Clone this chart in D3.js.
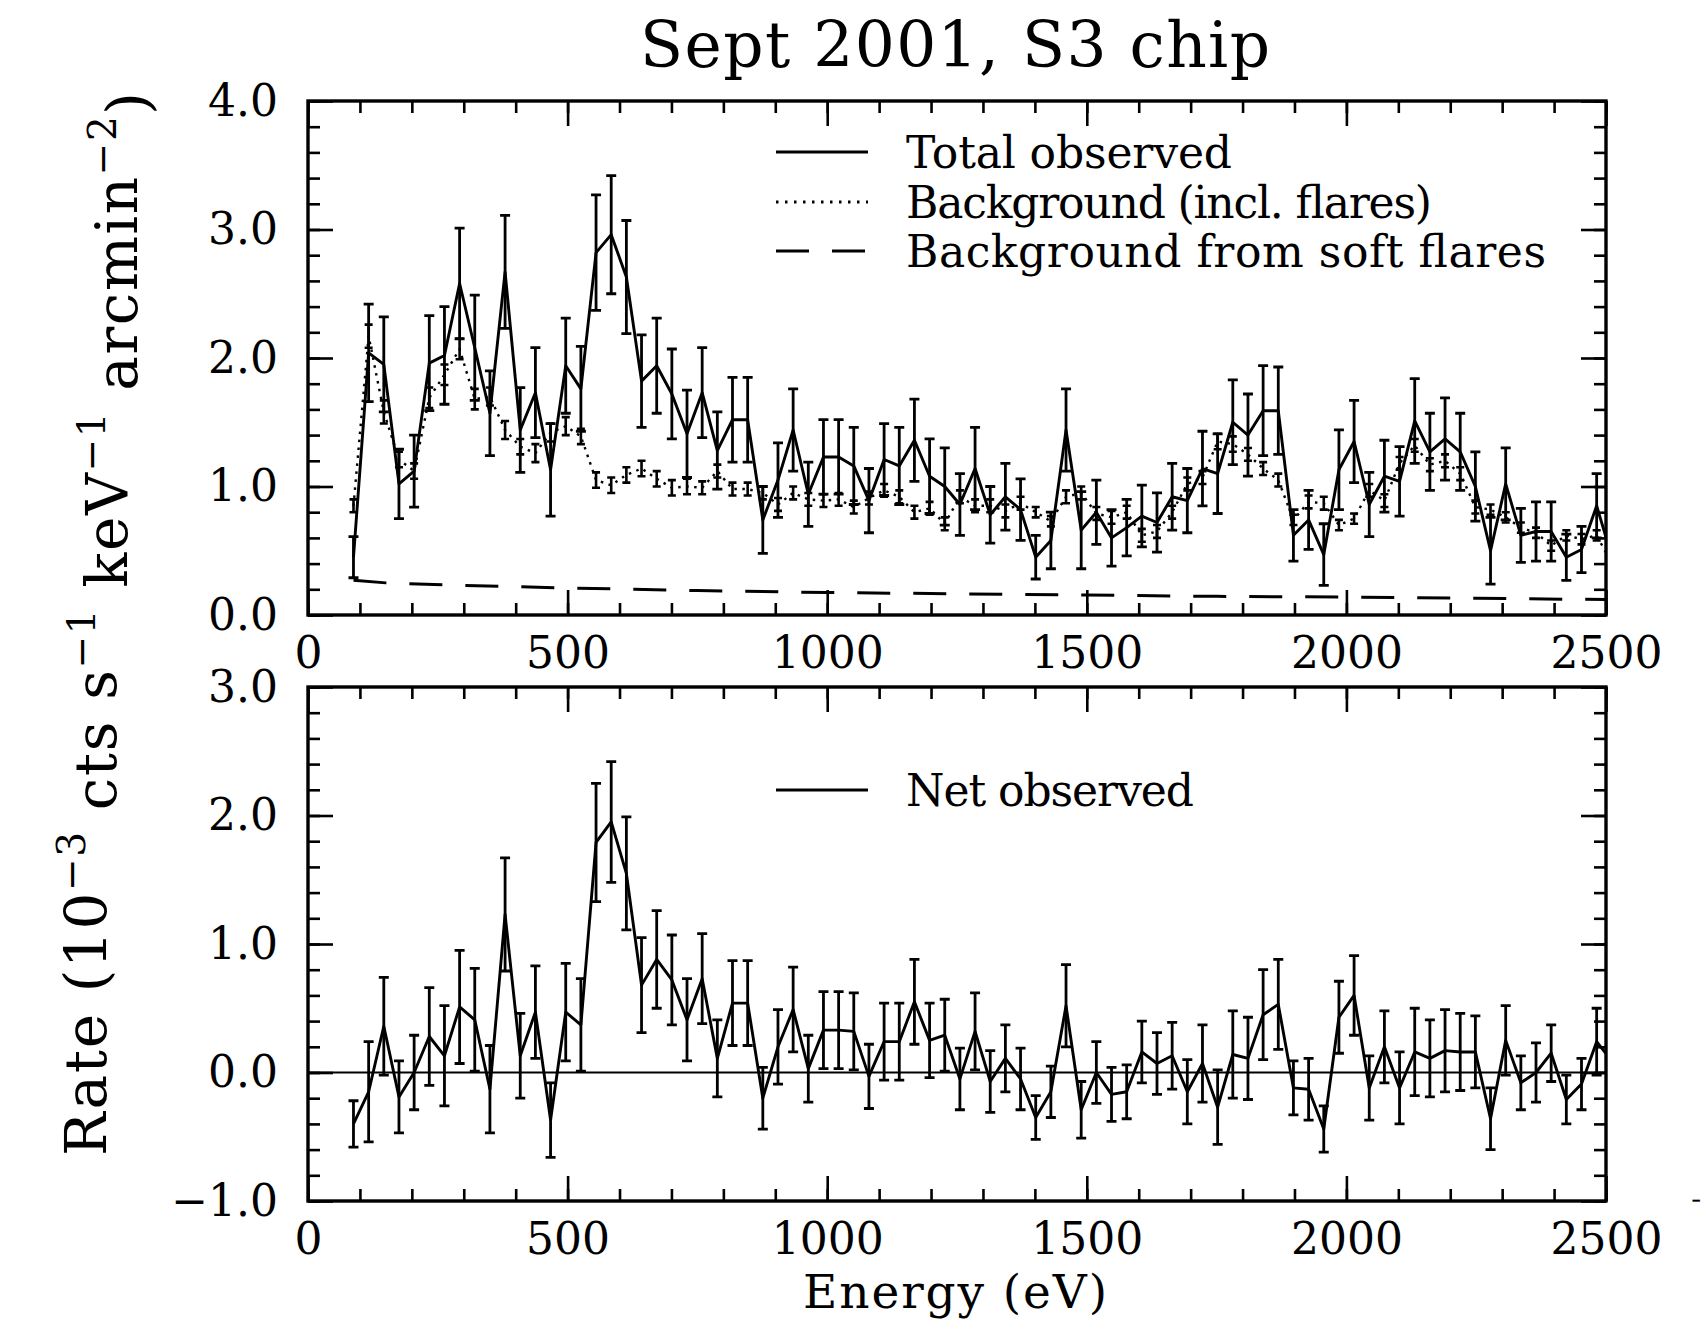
<!DOCTYPE html>
<html>
<head>
<meta charset="utf-8">
<script src="https://cdn.jsdelivr.net/npm/d3@7"></script>
<style>
  body { margin: 0; background: #fff; }
  svg text { font-family: "DejaVu Serif", serif; fill: #000; }
</style>
</head>
<body>
<div id="chart"></div>
<script>
/**********************/
/******* data         */
/**********************/

// bin centres in eV (2 PI channels per bin)
const energy = [87.6, 116.8, 146.0, 175.2, 204.4, 233.6, 262.8, 292.0, 321.2, 350.4,
    379.6, 408.8, 438.0, 467.2, 496.4, 525.6, 554.8, 584.0, 613.2, 642.4,
    671.6, 700.8, 730.0, 759.2, 788.4, 817.6, 846.8, 876.0, 905.2, 934.4,
    963.6, 992.8, 1022.0, 1051.2, 1080.4, 1109.6, 1138.8, 1168.0, 1197.2, 1226.4,
    1255.6, 1284.8, 1314.0, 1343.2, 1372.4, 1401.6, 1430.8, 1460.0, 1489.2, 1518.4,
    1547.6, 1576.8, 1606.0, 1635.2, 1664.4, 1693.6, 1722.8, 1752.0, 1781.2, 1810.4,
    1839.6, 1868.8, 1898.0, 1927.2, 1956.4, 1985.6, 2014.8, 2044.0, 2073.2, 2102.4,
    2131.6, 2160.8, 2190.0, 2219.2, 2248.4, 2277.6, 2306.8, 2336.0, 2365.2, 2394.4,
    2423.6, 2452.8, 2482.0, 2511.2];

const totalRate = [0.45, 2.04, 1.95, 1.02, 1.12, 1.96, 2.02, 2.58, 2.08, 1.57,
    2.67, 1.44, 1.73, 1.13, 1.94, 1.76, 2.82, 2.96, 2.63, 1.82,
    1.94, 1.72, 1.41, 1.73, 1.28, 1.52, 1.52, 0.74, 1.05, 1.44,
    0.94, 1.23, 1.23, 1.16, 0.89, 1.21, 1.16, 1.36, 1.08, 1.00,
    0.86, 1.14, 0.78, 0.92, 0.82, 0.45, 0.58, 1.44, 0.66, 0.80,
    0.60, 0.68, 0.77, 0.72, 0.92, 0.89, 1.14, 1.10, 1.50, 1.40,
    1.59, 1.59, 0.62, 0.74, 0.47, 1.13, 1.35, 0.86, 1.08, 1.04,
    1.51, 1.27, 1.37, 1.27, 1.00, 0.50, 1.02, 0.62, 0.65, 0.65,
    0.45, 0.51, 0.85, 0.45];

const totalErr = [0.16, 0.38, 0.37, 0.27, 0.28, 0.37, 0.38, 0.43, 0.41, 0.33,
    0.44, 0.33, 0.35, 0.36, 0.37, 0.33, 0.45, 0.46, 0.44, 0.36,
    0.37, 0.35, 0.34, 0.35, 0.30, 0.33, 0.33, 0.26, 0.29, 0.32,
    0.25, 0.29, 0.29, 0.30, 0.25, 0.28, 0.30, 0.32, 0.29, 0.30,
    0.24, 0.32, 0.22, 0.26, 0.24, 0.17, 0.22, 0.32, 0.30, 0.25,
    0.22, 0.22, 0.24, 0.23, 0.26, 0.25, 0.29, 0.31, 0.33, 0.32,
    0.35, 0.34, 0.20, 0.23, 0.24, 0.31, 0.32, 0.25, 0.28, 0.27,
    0.33, 0.30, 0.32, 0.30, 0.27, 0.26, 0.28, 0.21, 0.23, 0.23,
    0.18, 0.18, 0.25];

const bgRate = [0.85, 2.17, 1.58, 1.21, 1.12, 1.69, 1.87, 2.07, 1.68, 1.70,
    1.44, 1.31, 1.26, 1.42, 1.47, 1.39, 1.05, 1.01, 1.09, 1.14,
    1.06, 0.99, 1.00, 0.99, 1.12, 0.98, 0.98, 0.95, 0.86, 0.95,
    0.90, 0.89, 0.90, 0.84, 0.91, 0.97, 0.92, 0.80, 0.83, 0.71,
    0.92, 0.85, 0.85, 0.81, 0.87, 0.80, 0.73, 0.92, 0.95, 0.79,
    0.76, 0.80, 0.62, 0.65, 0.80, 1.02, 1.07, 1.35, 1.33, 1.25,
    1.14, 1.05, 0.74, 0.88, 0.87, 0.70, 0.75, 0.97, 0.89, 1.18,
    1.32, 1.17, 1.20, 1.10, 0.84, 0.82, 0.76, 0.68, 0.64, 0.54,
    0.62, 0.59, 0.62, 0.40];

const bgErr = [0.05, 0.09, 0.09, 0.06, 0.06, 0.08, 0.08, 0.08, 0.08, 0.07,
    0.07, 0.06, 0.07, 0.07, 0.07, 0.06, 0.06, 0.06, 0.06, 0.06,
    0.06, 0.06, 0.06, 0.05, 0.05, 0.05, 0.05, 0.05, 0.05, 0.05,
    0.05, 0.05, 0.05, 0.05, 0.05, 0.05, 0.05, 0.05, 0.05, 0.05,
    0.05, 0.05, 0.05, 0.05, 0.05, 0.04, 0.04, 0.05, 0.05, 0.05,
    0.05, 0.05, 0.05, 0.05, 0.05, 0.05, 0.05, 0.06, 0.06, 0.05,
    0.05, 0.05, 0.04, 0.05, 0.05, 0.04, 0.04, 0.05, 0.05, 0.05,
    0.05, 0.05, 0.05, 0.05, 0.05, 0.04, 0.04, 0.04, 0.04, 0.04,
    0.04, 0.04, 0.04];

const netRate = [-0.40, -0.15, 0.36, -0.19, 0.00, 0.28, 0.13, 0.51, 0.41, -0.13,
    1.23, 0.13, 0.47, -0.37, 0.47, 0.37, 1.79, 1.95, 1.55, 0.68,
    0.88, 0.72, 0.41, 0.73, 0.11, 0.54, 0.54, -0.20, 0.20, 0.49,
    0.03, 0.33, 0.33, 0.32, -0.03, 0.24, 0.24, 0.55, 0.25, 0.29,
    -0.05, 0.32, -0.07, 0.11, -0.05, -0.35, -0.15, 0.52, -0.29, 0.00,
    -0.17, -0.15, 0.16, 0.07, 0.13, -0.15, 0.07, -0.27, 0.14, 0.11,
    0.45, 0.53, -0.12, -0.13, -0.44, 0.43, 0.60, -0.12, 0.20, -0.12,
    0.16, 0.11, 0.17, 0.16, 0.16, -0.36, 0.25, -0.08, 0.00, 0.15,
    -0.21, -0.09, 0.24, 0.09];

const netErr = [0.18, 0.39, 0.38, 0.28, 0.29, 0.38, 0.39, 0.44, 0.40, 0.34,
    0.44, 0.33, 0.36, 0.29, 0.38, 0.36, 0.46, 0.47, 0.44, 0.37,
    0.38, 0.35, 0.32, 0.35, 0.30, 0.33, 0.33, 0.24, 0.29, 0.33,
    0.26, 0.30, 0.30, 0.30, 0.25, 0.30, 0.30, 0.33, 0.29, 0.28,
    0.24, 0.30, 0.24, 0.26, 0.24, 0.17, 0.20, 0.32, 0.22, 0.24,
    0.21, 0.21, 0.24, 0.24, 0.26, 0.25, 0.30, 0.29, 0.34, 0.32,
    0.35, 0.35, 0.21, 0.24, 0.18, 0.28, 0.31, 0.25, 0.28, 0.28,
    0.34, 0.30, 0.32, 0.30, 0.28, 0.24, 0.27, 0.21, 0.23, 0.22,
    0.19, 0.20, 0.26];

// background from soft flares (smooth curve)
const flareEnergy = [87.6, 150, 300, 500, 750, 1000, 1250, 1500, 1750, 2000, 2250, 2500];
const flareRate = [0.27, 0.25, 0.23, 0.21, 0.19, 0.175, 0.165, 0.155, 0.145, 0.14, 0.13, 0.12];

const xTicks = [0, 500, 1000, 1500, 2000, 2500];
const topYTicks = [0, 1, 2, 3, 4];
const bottomYTicks = [-1, 0, 1, 2, 3];

/**********************/
/******* d3           */
/**********************/

const width = 1702, height = 1326;
const plot = {left: 308, right: 1606};
const panelTop = {top: 101, bottom: 615};
const panelBottom = {top: 687, bottom: 1201};

const svg = d3.select("#chart")
    .append("svg")
    .attr("width", width)
    .attr("height", height)
    .style("background", "#fff");

const x = d3.scaleLinear().domain([0, 2500]).range([plot.left, plot.right]);
const yTop = d3.scaleLinear().domain([0, 4]).range([panelTop.bottom, panelTop.top]);
const yBottom = d3.scaleLinear().domain([-1, 3]).range([panelBottom.bottom, panelBottom.top]);

const fmt = d => d3.format(".1f")(d).replace("-", "\u2212");

function drawFrame(y, yTicks, box, clipId) {
    const g = svg.append("g");
    const minorX = d3.range(0, 2501, 100);
    const minorY = d3.range(y.domain()[0], y.domain()[1] + 0.001, 0.2);

    // minor ticks on all four sides
    g.append("g").attr("transform", `translate(0, ${box.bottom})`)
        .call(d3.axisBottom(x).tickValues(minorX).tickSize(-12).tickFormat(""));
    g.append("g").attr("transform", `translate(0, ${box.top})`)
        .call(d3.axisTop(x).tickValues(minorX).tickSize(-12).tickFormat(""));
    g.append("g").attr("transform", `translate(${plot.left}, 0)`)
        .call(d3.axisLeft(y).tickValues(minorY).tickSize(-12).tickFormat(""));
    g.append("g").attr("transform", `translate(${plot.right}, 0)`)
        .call(d3.axisRight(y).tickValues(minorY).tickSize(-12).tickFormat(""));

    // major ticks + labels
    g.append("g").attr("transform", `translate(0, ${box.bottom})`)
        .call(d3.axisBottom(x).tickValues(xTicks).tickSize(-25).tickPadding(22).tickFormat(d3.format("d")));
    g.append("g").attr("transform", `translate(0, ${box.top})`)
        .call(d3.axisTop(x).tickValues(xTicks).tickSize(-25).tickFormat(""));
    g.append("g").attr("transform", `translate(${plot.left}, 0)`)
        .call(d3.axisLeft(y).tickValues(yTicks).tickSize(-25).tickPadding(30).tickFormat(fmt));
    g.append("g").attr("transform", `translate(${plot.right}, 0)`)
        .call(d3.axisRight(y).tickValues(yTicks).tickSize(-25).tickFormat(""));

    g.selectAll(".domain").remove();
    g.selectAll(".tick line").attr("stroke", "#000").attr("stroke-width", 2.6);
    g.selectAll(".tick text")
        .style("font-family", "'DejaVu Serif', serif")
        .style("font-size", "44px")
        .attr("fill", "#000");

    g.append("rect")
        .attr("x", plot.left)
        .attr("y", box.top)
        .attr("width", plot.right - plot.left)
        .attr("height", box.bottom - box.top)
        .attr("fill", "none")
        .attr("stroke", "#000")
        .attr("stroke-width", 3.4);

    svg.append("clipPath").attr("id", clipId)
        .append("rect")
        .attr("x", plot.left)
        .attr("y", box.top)
        .attr("width", plot.right - plot.left)
        .attr("height", box.bottom - box.top);

    return svg.append("g").attr("clip-path", `url(#${clipId})`);
}

function errorBars(g, y, values, errs, cap, width) {
    g.append("path")
        .attr("fill", "none")
        .attr("stroke", "#000")
        .attr("stroke-width", width)
        .attr("d", errs.map((e, i) => {
            const px = x(energy[i]), hi = y(values[i] + e), lo = y(values[i] - e);
            return `M${px - cap},${hi}H${px + cap}M${px},${hi}V${lo}M${px - cap},${lo}H${px + cap}`;
        }).join(""));
}

function seriesLine(g, y, xs, ys, dash, width) {
    const line = d3.line().x(d => x(d[0])).y(d => y(d[1]));
    g.append("path")
        .datum(d3.zip(xs, ys))
        .attr("fill", "none")
        .attr("stroke", "#000")
        .attr("stroke-width", width)
        .attr("stroke-linejoin", "round")
        .attr("stroke-dasharray", dash)
        .attr("d", line);
}

// top panel: total, background, soft flares
const chartTop = drawFrame(yTop, topYTicks, panelTop, "clip-top");
seriesLine(chartTop, yTop, flareEnergy, flareRate, "33,23", 3);
seriesLine(chartTop, yTop, energy, bgRate, "2.5,5.5", 2.4);
errorBars(chartTop, yTop, bgRate, bgErr, 4, 2.6);
seriesLine(chartTop, yTop, energy, totalRate, null, 2.9);
errorBars(chartTop, yTop, totalRate, totalErr, 5, 2.8);

// bottom panel: net
const chartBottom = drawFrame(yBottom, bottomYTicks, panelBottom, "clip-bottom");
chartBottom.append("line")
    .attr("x1", plot.left).attr("x2", plot.right)
    .attr("y1", yBottom(0)).attr("y2", yBottom(0))
    .attr("stroke", "#000").attr("stroke-width", 1.8);
seriesLine(chartBottom, yBottom, energy, netRate, null, 2.9);
errorBars(chartBottom, yBottom, netRate, netErr, 5, 2.8);

const legendTop = [
    {label: "Total observed", dash: null, y: 152, len: 326},
    {label: "Background (incl. flares)", dash: "2.5,6.5", y: 202, len: 526},
    {label: "Background from soft flares", dash: "33,23", y: 251, len: 640}
];
const legendBottom = [{label: "Net observed", dash: null, y: 790, len: 288}];

legendTop.concat(legendBottom).forEach(d => {
    svg.append("line")
        .attr("x1", 776).attr("x2", 868)
        .attr("y1", d.y).attr("y2", d.y)
        .attr("stroke", "#000")
        .attr("stroke-width", 2.8)
        .attr("stroke-dasharray", d.dash);
    svg.append("text")
        .attr("x", 906)
        .attr("y", d.y)
        .attr("dy", "0.36em")
        .attr("textLength", d.len)
        .attr("lengthAdjust", "spacing")
        .style("font-size", "44px")
        .text(d.label);
});

// titles
svg.append("text")
    .attr("x", 955)
    .attr("y", 67)
    .attr("text-anchor", "middle")
    .attr("textLength", 630)
    .attr("lengthAdjust", "spacing")
    .style("font-size", "63px")
    .text("Sept 2001, S3 chip");

svg.append("text")
    .attr("x", 955)
    .attr("y", 1308)
    .attr("text-anchor", "middle")
    .attr("textLength", 304)
    .attr("lengthAdjust", "spacing")
    .style("font-size", "47px")
    .text("Energy (eV)");

const yLabel = svg.append("text")
    .attr("transform", "translate(106, 624) rotate(-90)")
    .attr("text-anchor", "middle")
    .attr("textLength", 1064)
    .attr("lengthAdjust", "spacing")
    .style("font-size", "58px");

const yParts = [["Rate (10", false], ["\u22123", true], [" cts s", false], ["\u22121", true],
    [" keV", false], ["\u22121", true], [" arcmin", false], ["\u22122", true], [")", false]];
let raised = false;
yParts.forEach(([t, sup]) => {
    const span = yLabel.append("tspan").text(t);
    if (sup !== raised) span.attr("dy", sup ? "-0.55em" : "0.55em");
    if (sup) span.style("font-size", "39px");
    raised = sup;
});

// stray minus at the right edge of the bottom frame
svg.append("text")
    .attr("x", 1692)
    .attr("y", panelBottom.bottom)
    .attr("dy", "0.32em")
    .attr("stroke", "#000")
    .attr("stroke-width", 1.2)
    .style("font-size", "10px")
    .text("\u2212");
</script>
</body>
</html>
